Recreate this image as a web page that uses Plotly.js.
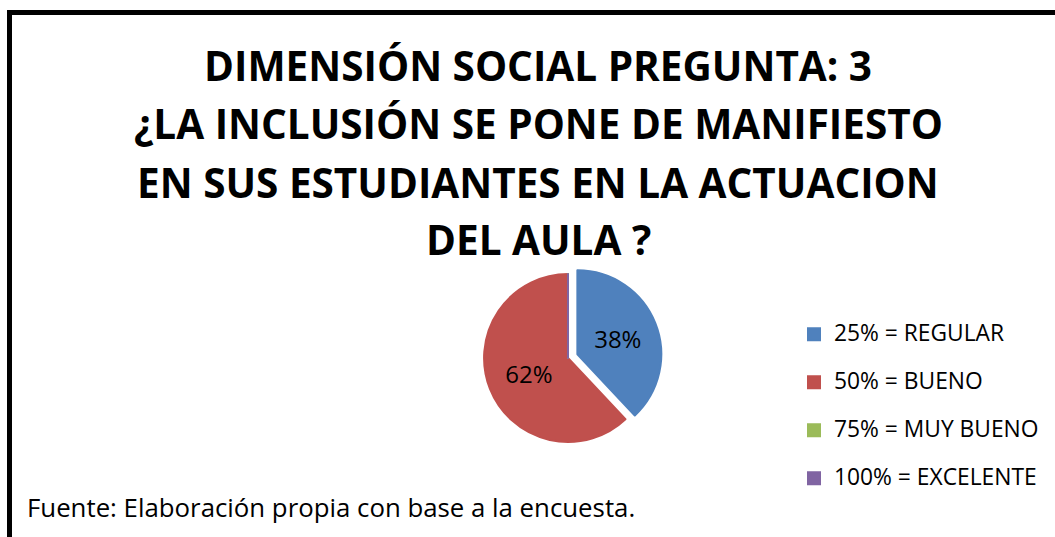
<!DOCTYPE html>
<html>
<head>
<meta charset="utf-8">
<script src="https://cdn.plot.ly/plotly-3.0.1.min.js"></script>
<style>html,body{margin:0;padding:0;background:#fff;}#chart{width:1055px;height:537px;}</style>
</head>
<body>
<div id="chart"></div>
<script>
const categories = ["25% = REGULAR", "50% = BUENO", "75% = MUY BUENO", "100% = EXCELENTE"];
const values = [38, 62, 0, 0];
const colors = ["#4F81BD", "#C0504D", "#9BBB59", "#8064A2"];
const pulls = [0.12, 0, 0, 0];
const titleLines = [
  "DIMENSIÓN SOCIAL PREGUNTA: 3",
  "¿LA INCLUSIÓN SE PONE DE MANIFIESTO",
  "EN SUS ESTUDIANTES EN LA ACTUACION",
  "DEL AULA ?"
];
const sourceNote = "Fuente: Elaboración propia con base a la encuesta.";

const W = 1055, H = 537;
const FONT = "'Open Sans', Lato, sans-serif";
const py = p => 1 - p / H;
const px = p => p / W;

const trace = {
  type: "pie",
  labels: categories.map(c => `<span style="font-size:22.8px">${c}</span><br>&nbsp;`),
  values: values,
  sort: false,
  direction: "clockwise",
  rotation: 0,
  pull: pulls,
  marker: {colors: colors, line: {color: colors, width: 2}},
  texttemplate: "%{percent:.0%}",
  textposition: "inside",
  insidetextorientation: "horizontal",
  textfont: {family: FONT, size: 24, color: "#000000"},
  hoverinfo: "label+percent",
  domain: {x: [px(474), px(662)], y: [py(452), py(264)]},
  showlegend: true
};

const titleY = [65.5, 124, 182, 239];
const annotations = titleLines.map((t, i) => ({
  text: "<b>" + t + "</b>",
  xref: "paper", yref: "paper",
  x: px(538), y: py(titleY[i]),
  xanchor: "center", yanchor: "middle",
  showarrow: false,
  font: {family: FONT, size: 40.5, color: "#000000"}
}));
annotations.push({
  text: sourceNote,
  xref: "paper", yref: "paper",
  x: px(25), y: py(507),
  xanchor: "left", yanchor: "middle",
  showarrow: false,
  font: {family: FONT, size: 25.8, color: "#000000"}
});

const layout = {
  width: W, height: H,
  margin: {l: 0, r: 0, t: 0, b: 0},
  paper_bgcolor: "#ffffff",
  showlegend: true,
  legend: {
    x: px(794), y: py(316.5), xanchor: "left", yanchor: "top",
    font: {family: FONT, size: 17.3, color: "#000000"},
    valign: "top",
    bgcolor: "rgba(0,0,0,0)"
  },
  annotations: annotations,
  shapes: [
    {type: "line", xref: "paper", yref: "paper", x0: px(9.5), x1: px(9.5), y0: py(10), y1: py(560), line: {color: "#000000", width: 5}},
    {type: "line", xref: "paper", yref: "paper", x0: px(7), x1: px(1070), y0: py(12.5), y1: py(12.5), line: {color: "#000000", width: 5}}
  ]
};

Plotly.newPlot("chart", [trace], layout, {displayModeBar: false, staticPlot: true});
</script>
</body>
</html>
